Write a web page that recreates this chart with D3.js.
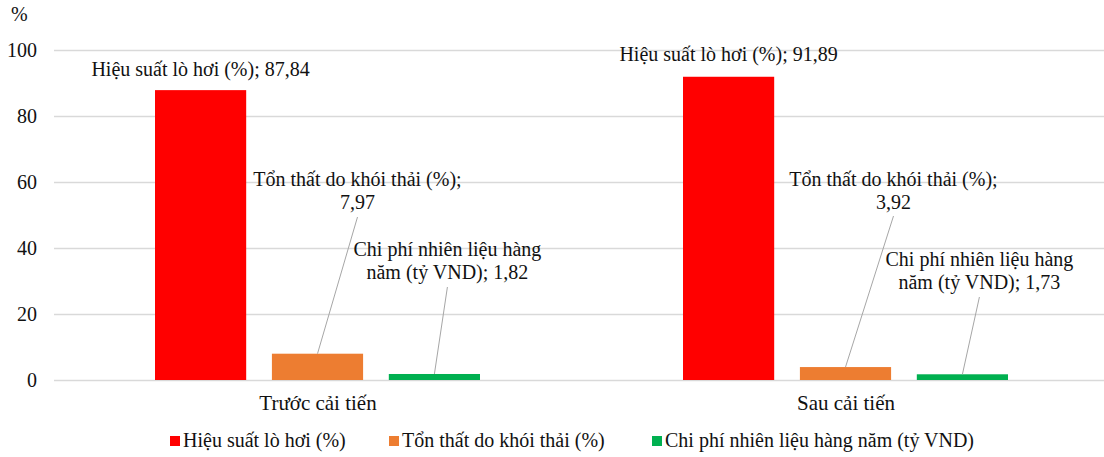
<!DOCTYPE html>
<html>
<head>
<meta charset="utf-8">
<script src="https://cdn.jsdelivr.net/npm/d3@7"></script>
<style>
  body { margin: 0; background: #fff; }
</style>
</head>
<body>
<main></main>
<script>
// Data
const categories = ["Trước cải tiến", "Sau cải tiến"];
const seriesNames = [
  "Hiệu suất lò hơi (%)",
  "Tổn thất do khói thải (%)",
  "Chi phí nhiên liệu hàng năm (tỷ VND)",
];
const boilerEfficiency = [87.84, 91.89];
const fluegasLoss = [7.97, 3.92];
const fuelCost = [1.82, 1.73];
const yTicks = [0, 20, 40, 60, 80, 100];
const colors = ["#ff0000", "#ed7d31", "#00b050"];

// Dimensions
const width = 1104;
const height = 457;
const plot = { left: 54, right: 1110, top: 50, bottom: 380 };
const fontSize = 20;
const serif = '"Liberation Serif", "Times New Roman", serif';
const textColor = "#111";

const svg = d3
  .select("main")
  .append("svg")
  .attr("width", width)
  .attr("height", height)
  .attr("font-family", serif)
  .attr("fill", textColor);

const x0 = d3.scaleBand().domain(categories).range([plot.left, plot.right]);
const x1 = d3
  .scaleBand()
  .domain(seriesNames)
  .range([101, 426])
  .paddingInner(0.22);
const y = d3.scaleLinear().domain([0, 100]).range([plot.bottom, plot.top]);

// Gridlines
svg
  .append("g")
  .selectAll("line")
  .data(yTicks)
  .enter()
  .append("line")
  .attr("x1", plot.left)
  .attr("x2", plot.right)
  .attr("y1", (d) => y(d) + 0.5)
  .attr("y2", (d) => y(d) + 0.5)
  .attr("stroke", "#d9d9d9")
  .attr("stroke-width", 1.3);

// Y axis labels
const yAxis = d3.axisLeft(y).tickValues(yTicks).tickSize(0).tickPadding(17);
svg
  .append("g")
  .attr("transform", `translate(${plot.left}, 0)`)
  .call(yAxis)
  .attr("font-family", serif)
  .attr("font-size", fontSize)
  .call((g) => g.select(".domain").remove())
  .call((g) => g.selectAll("text").attr("fill", textColor));

svg
  .append("text")
  .attr("x", 11)
  .attr("y", 21)
  .attr("font-size", fontSize)
  .text("%");

// Rows for drawing
const values = [boilerEfficiency, fluegasLoss, fuelCost];
const rows = [];
categories.forEach((c, ci) => {
  seriesNames.forEach((s, si) => {
    rows.push({ category: c, series: s, si, ci, value: values[si][ci] });
  });
});

// Bars
svg
  .append("g")
  .selectAll("rect")
  .data(rows)
  .enter()
  .append("rect")
  .attr("x", (d) => x0(d.category) + x1(d.series))
  .attr("y", (d) => y(d.value))
  .attr("width", x1.bandwidth())
  .attr("height", (d) => y(0) - y(d.value))
  .attr("fill", (d) => colors[d.si]);

// Category labels
svg
  .append("g")
  .selectAll("text")
  .data(categories)
  .enter()
  .append("text")
  .attr("x", (d) => x0(d) + x0.bandwidth() / 2)
  .attr("y", 410)
  .attr("text-anchor", "middle")
  .attr("font-size", 21)
  .text((d) => d);

// Data labels: offsets of label centre relative to bar centre (dx) and line baselines (ly)
const fmt = (v) => v.toFixed(2).replace(".", ",");
const labelPlacement = [
  [{ dx: 0, ly: [76] }, { dx: 0, ly: [61] }],
  [{ dx: 40, ly: [186, 209], leaderY: 217 }, { dx: 48, ly: [186, 209], leaderY: 216 }],
  [{ dx: 13, ly: [256, 279], leaderY: 287 }, { dx: 17, ly: [266, 289], leaderY: 297 }],
];
const labelLines = (d) => {
  const v = fmt(d.value);
  if (d.si === 0) return [`${d.series}; ${v}`];
  if (d.si === 1) return [`${d.series};`, v];
  return ["Chi phí nhiên liệu hàng", `năm (tỷ VND); ${v}`];
};

const labels = svg.append("g");
rows.forEach((d) => {
  const p = labelPlacement[d.si][d.ci];
  const cx = x0(d.category) + x1(d.series) + x1.bandwidth() / 2;
  const lx = cx + p.dx;
  if (p.leaderY) {
    labels
      .append("line")
      .attr("x1", cx)
      .attr("y1", y(d.value))
      .attr("x2", lx)
      .attr("y2", p.leaderY)
      .attr("stroke", "#a6a6a6")
      .attr("stroke-width", 1);
  }
  labelLines(d).forEach((t, i) => {
    labels
      .append("text")
      .attr("x", lx)
      .attr("y", p.ly[i])
      .attr("text-anchor", "middle")
      .attr("font-size", fontSize)
      .text(t);
  });
});

// Legend
const legendX = [170, 389, 652];
const legend = svg
  .append("g")
  .selectAll("g")
  .data(seriesNames)
  .enter()
  .append("g")
  .attr("transform", (d, i) => `translate(${legendX[i]}, 436)`);
legend
  .append("rect")
  .attr("width", 10)
  .attr("height", 10)
  .attr("fill", (d, i) => colors[i]);
legend
  .append("text")
  .attr("x", 13)
  .attr("y", 11)
  .attr("font-size", fontSize)
  .text((d) => d);
</script>
</body>
</html>
